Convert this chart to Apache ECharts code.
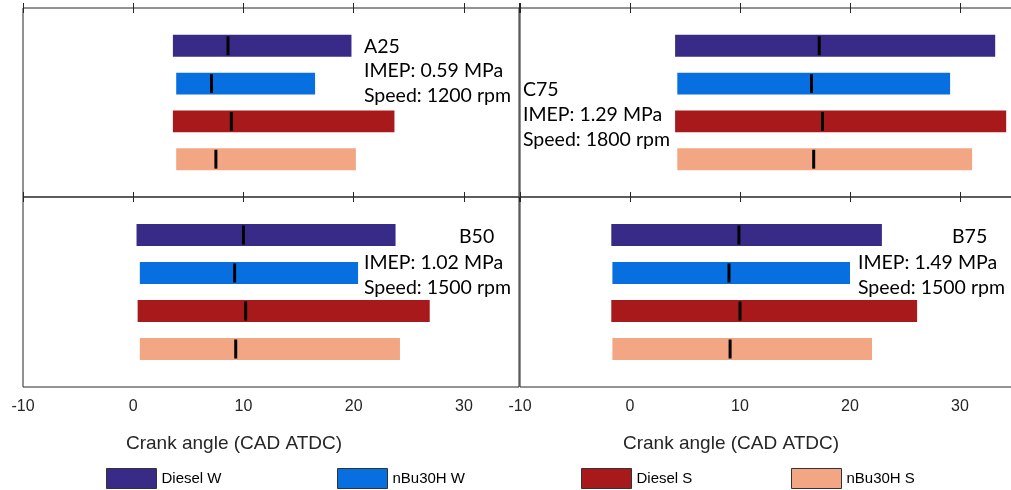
<!DOCTYPE html>
<html>
<head>
<meta charset="utf-8">
<script src="https://cdn.jsdelivr.net/npm/echarts@6/dist/echarts.min.js"></script>
<style>
  html, body { margin: 0; padding: 0; background: #fff; }
  #chart { width: 1011px; height: 490px; }
</style>
</head>
<body>
<div id="chart"></div>
<script>
// Fuels / injection strategies, drawn top to bottom in every panel
const fuels = ['Diesel W', 'nBu30H W', 'Diesel S', 'nBu30H S'];

// Operating points
const caseNames = ['A25', 'C75', 'B50', 'B75'];
const caseImep = ['0.59', '1.29', '1.02', '1.49'];
const caseSpeed = ['1200', '1800', '1500', '1500'];

// Combustion start (CA10), end (CA90) and CA50, in CAD ATDC
const a25Start = [3.6, 3.9, 3.6, 3.9];
const a25End = [19.8, 16.5, 23.7, 20.2];
const a25Ca50 = [8.6, 7.1, 8.9, 7.5];

const c75Start = [4.1, 4.3, 4.1, 4.3];
const c75End = [33.2, 29.1, 34.2, 31.1];
const c75Ca50 = [17.2, 16.5, 17.5, 16.7];

const b50Start = [0.3, 0.6, 0.4, 0.6];
const b50End = [23.8, 20.4, 26.9, 24.2];
const b50Ca50 = [10.0, 9.2, 10.2, 9.3];

const b75Start = [-1.7, -1.6, -1.7, -1.6];
const b75End = [22.9, 20.0, 26.1, 22.0];
const b75Ca50 = [9.9, 9.0, 10.0, 9.1];

const xTicks = [-10, 0, 10, 20, 30];
const xMin = -10, xMax = 35, xStep = 10;

const caseStart = [a25Start, c75Start, b50Start, b75Start];
const caseEnd = [a25End, c75End, b50End, b75End];
const caseCa50 = [a25Ca50, c75Ca50, b50Ca50, b75Ca50];

// ---- styling / layout ----
const fuelColors = ['#382B88', '#086FE0', '#A7191A', '#F2A683'];
const axisColor = '#262626';
const labelFont = 'Liberation Sans, Arial, sans-serif';
const noteFont = 'Lato, Carlito, sans-serif';

const gridBoxes = [
  { left: 23, top: 8, width: 496, height: 189 },
  { left: 520, top: 8, width: 495, height: 189 },
  { left: 23, top: 197, width: 496, height: 190 },
  { left: 520, top: 197, width: 495, height: 190 }
];
const showLabels = [false, false, true, true];

function renderBurn(params, api) {
  const row = api.value(0);
  const p0 = api.coord([api.value(1), row]);
  const p1 = api.coord([api.value(2), row]);
  const pm = api.coord([api.value(3), row]);
  const band = api.size([0, 1])[1];
  const barH = band * 0.58;
  const markH = band * 0.5;
  return {
    type: 'group',
    children: [
      { type: 'rect', shape: { x: p0[0], y: p0[1] - barH / 2, width: p1[0] - p0[0], height: barH },
        style: { fill: api.visual('color') } },
      { type: 'rect', shape: { x: pm[0] - 1.5, y: pm[1] - markH / 2, width: 3, height: markH },
        style: { fill: '#000' } }
    ]
  };
}

const grids = gridBoxes.map(b => Object.assign({
  show: true, borderColor: axisColor, borderWidth: 1, backgroundColor: 'transparent',
  outerBoundsMode: 'none'
}, b));

const xAxes = [];
gridBoxes.forEach((b, p) => {
  const common = {
    type: 'value', gridIndex: p, min: xMin, max: xMax, interval: xStep,
    axisLine: { show: false },
    axisTick: { show: true, inside: true, length: 5, lineStyle: { color: axisColor, width: 1 } },
    splitLine: { show: false }
  };
  xAxes.push(Object.assign({}, common, {
    position: 'bottom',
    axisLabel: {
      show: showLabels[p], showMaxLabel: false, margin: 12,
      fontFamily: labelFont, fontSize: 16, color: axisColor,
      formatter: v => (xTicks.indexOf(v) >= 0 ? String(v) : '')
    }
  }));
  xAxes.push(Object.assign({}, common, { position: 'top', axisLabel: { show: false } }));
});

const yAxes = gridBoxes.map((b, p) => ({
  type: 'value', gridIndex: p, min: 0, max: 5, inverse: true, show: false
}));

const series = [];
gridBoxes.forEach((b, p) => {
  fuels.forEach((f, i) => {
    series.push({
      type: 'custom', name: f, xAxisIndex: 2 * p, yAxisIndex: p,
      itemStyle: { color: fuelColors[i] },
      renderItem: renderBurn,
      encode: { x: [1, 2, 3], y: 0 },
      data: [[i + 1, caseStart[p][i], caseEnd[p][i], caseCa50[p][i]]],
      clip: true, silent: true
    });
  });
});

// Operating-point notes inside each panel (y is the text middle)
function note(text, x, y) {
  return { type: 'text', left: x, top: y - 10, style: { text: text, font: '19.5px ' + noteFont, fill: '#000' } };
}
const notes = [
  note(caseNames[0], 364, 47), note('IMEP: ' + caseImep[0] + ' MPa', 364, 71), note('Speed: ' + caseSpeed[0] + ' rpm', 364, 96),
  note(caseNames[1], 523, 90), note('IMEP: ' + caseImep[1] + ' MPa', 523, 115), note('Speed: ' + caseSpeed[1] + ' rpm', 523, 140),
  note(caseNames[2], 459, 237), note('IMEP: ' + caseImep[2] + ' MPa', 364, 263), note('Speed: ' + caseSpeed[2] + ' rpm', 364, 288),
  note(caseNames[3], 952, 237), note('IMEP: ' + caseImep[3] + ' MPa', 858, 263), note('Speed: ' + caseSpeed[3] + ' rpm', 858, 288)
];

const axisTitles = [234, 731].map(cx => ({
  type: 'text', left: cx - 108, top: 434,
  style: { text: 'Crank angle (CAD ATDC)', font: '19px ' + labelFont, fill: axisColor }
}));

const legendLeft = [106, 337, 581, 791];
const legends = fuels.map((f, i) => ({
  data: [f], left: legendLeft[i], top: 468, padding: 0,
  itemWidth: 50, itemHeight: 20, icon: 'rect',
  itemStyle: { borderColor: '#333', borderWidth: 1 },
  textStyle: { fontFamily: labelFont, fontSize: 15, color: '#000' },
  selectedMode: false
}));

const chart = echarts.init(document.getElementById('chart'), null, { renderer: 'canvas' });
chart.setOption({
  animation: false,
  backgroundColor: '#fff',
  grid: grids,
  xAxis: xAxes,
  yAxis: yAxes,
  legend: legends,
  series: series,
  graphic: notes.concat(axisTitles)
});
</script>
</body>
</html>
